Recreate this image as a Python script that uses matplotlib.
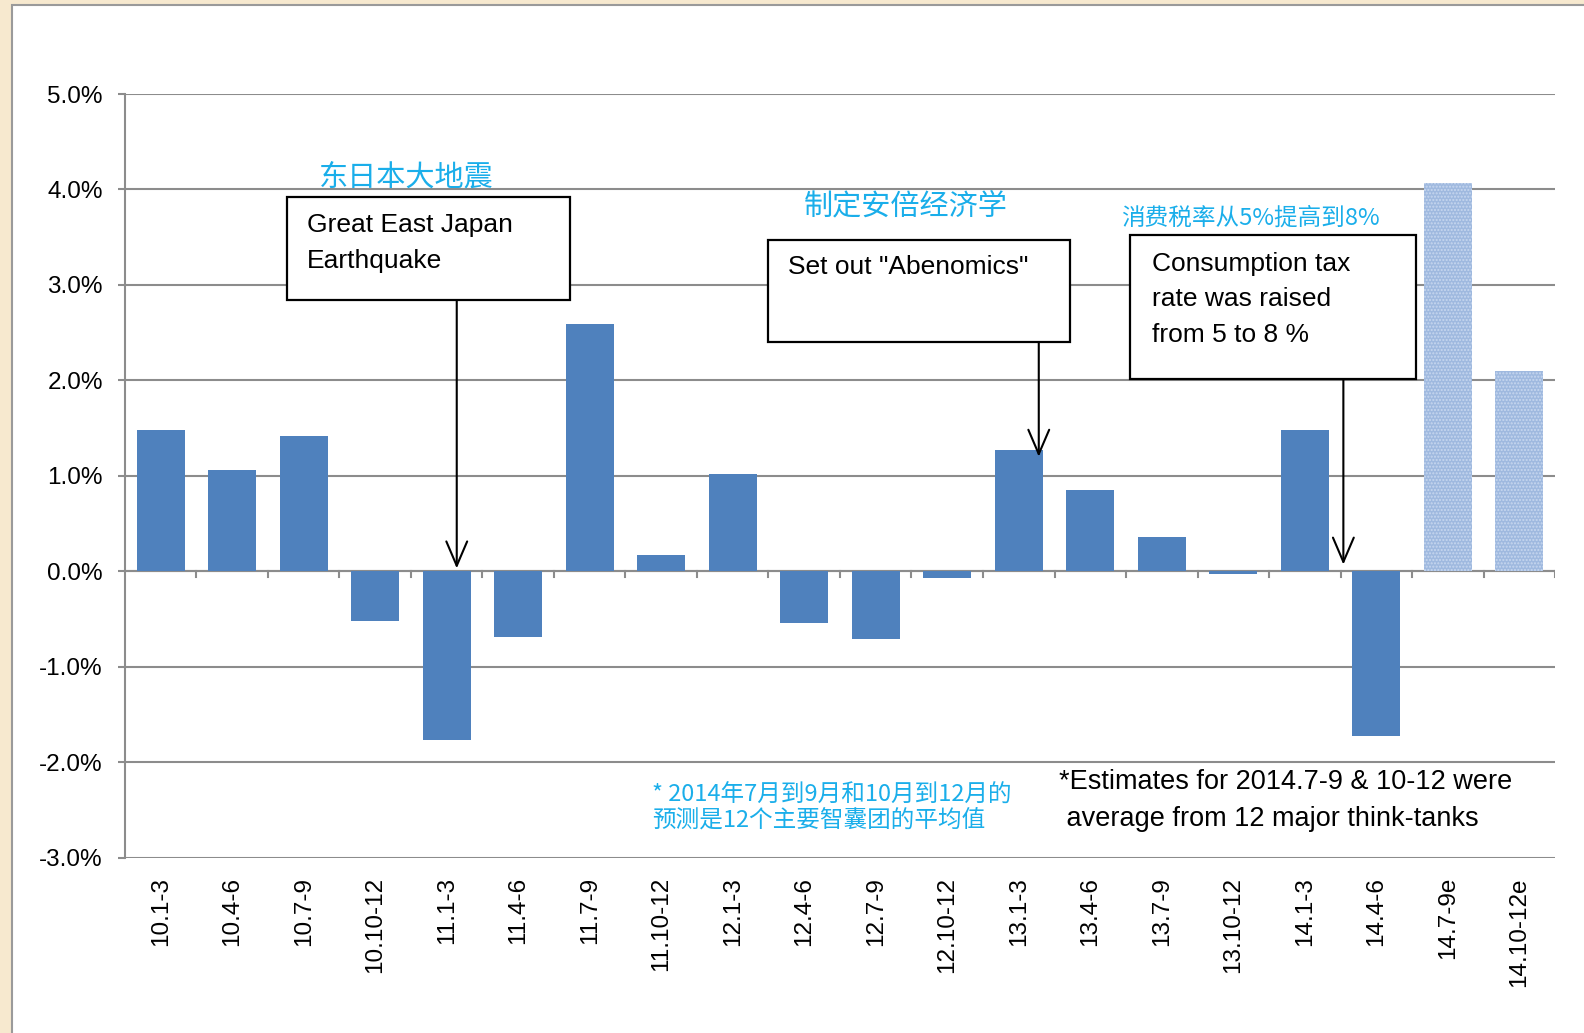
import numpy as np
import matplotlib.pyplot as plt
from matplotlib.patches import Rectangle

plt.rcParams['font.family'] = ['Liberation Sans', 'Noto Sans CJK SC']
cjk = ['Noto Sans CJK SC', 'DejaVu Sans']

# quarterly real GDP growth (q/q, %), last two are estimates
quarters = ['10.1-3', '10.4-6', '10.7-9', '10.10-12',
            '11.1-3', '11.4-6', '11.7-9', '11.10-12',
            '12.1-3', '12.4-6', '12.7-9', '12.10-12',
            '13.1-3', '13.4-6', '13.7-9', '13.10-12',
            '14.1-3', '14.4-6', '14.7-9e', '14.10-12e']
growth = [1.48, 1.06, 1.42, -0.52,
          -1.77, -0.69, 2.59, 0.17,
          1.02, -0.54, -0.71, -0.07,
          1.27, 0.85, 0.36, -0.03,
          1.48, -1.73, 4.07, 2.10]
is_estimate = [False] * 18 + [True, True]
yticks = [-3, -2, -1, 0, 1, 2, 3, 4, 5]

blue = '#4f81bd'
cyan = '#1aaeea'
grid_c = '#8c8c8c'

fig = plt.figure(figsize=(15.84, 10.33), dpi=100, facecolor='#f7e9cf')
# white panel with grey edge
fig.patches.append(Rectangle((12 / 1584, -0.01), 1.0, 1 - 5 / 1033 + 0.01,
                             transform=fig.transFigure, facecolor='white',
                             edgecolor='#9a9a9a', lw=1.5, zorder=-5))

ax = fig.add_axes([0.0789, 0.1698, 0.9028, 0.7392])
ax.set_facecolor('none')

x = np.arange(len(quarters))
for i in x:
    if is_estimate[i]:
        ax.bar(x[i], growth[i], width=0.667, color='#9fb9df',
               edgecolor='#c8d8ef', hatch='.....', lw=0, zorder=2)
    else:
        ax.bar(x[i], growth[i], width=0.667, color=blue, lw=0, zorder=2)

ax.set_xlim(-0.5, len(quarters) - 0.5)
ax.set_ylim(-3, 5)
ax.set_yticks(yticks)
ax.set_yticklabels(['{:.1f}%'.format(v) for v in yticks], fontsize=17.5)
ax.yaxis.grid(True, color=grid_c, lw=1.5, zorder=0)
ax.tick_params(axis='y', length=5, color=grid_c, width=1.5, pad=11)
ax.set_axisbelow(True)

for s in ['top', 'right', 'bottom']:
    ax.spines[s].set_visible(False)
ax.spines['left'].set_color(grid_c)
ax.spines['left'].set_linewidth(1.5)

# category labels at the bottom
ax.set_xticks(x)
ax.set_xticklabels(quarters, rotation=90, fontsize=17.5, va='top')
ax.tick_params(axis='x', length=0, pad=14)

# zero axis with boundary ticks
ax.axhline(0, color=grid_c, lw=1.5, zorder=1)
for b in np.arange(0.5, len(quarters), 1.0):
    ax.plot([b, b], [0, -0.065], color=grid_c, lw=1.5, zorder=1)

# annotation boxes
boxes = [(1.76, 2.84, 3.97, 1.08), (8.49, 2.40, 4.22, 1.07),
         (13.56, 2.01, 4.0, 1.51)]
for bx, by, bw, bh in boxes:
    ax.add_patch(Rectangle((bx, by), bw, bh, facecolor='white',
                           edgecolor='black', lw=1.6, zorder=4))

ax.text(2.05, 3.44, 'Great East Japan\nEarthquake', fontsize=19,
        va='center', ha='left', linespacing=1.6, zorder=5)
ax.text(8.77, 3.19, 'Set out "Abenomics"', fontsize=19,
        va='center', ha='left', zorder=5)
ax.text(13.87, 2.85, 'Consumption tax\nrate was raised\nfrom 5 to 8 %',
        fontsize=19, va='center', ha='left', linespacing=1.6, zorder=5)

ax.text(3.44, 4.13, '东日本大地震', color=cyan, fontsize=21, family=cjk,
        ha='center', va='center')
ax.text(10.42, 3.82, '制定安倍经济学', color=cyan, fontsize=21, family=cjk,
        ha='center', va='center')
ax.text(15.24, 3.70, '消费税率从5%提高到8%', color=cyan, fontsize=17,
        family=cjk, ha='center', va='center')

# arrows
arrows = [(4.14, 2.84, 0.03), (12.28, 2.40, 1.20), (16.54, 2.01, 0.07)]
for ax_x, y0, y1 in arrows:
    ax.annotate('', xy=(ax_x, y1), xytext=(ax_x, y0),
                arrowprops=dict(arrowstyle='->,head_length=0.7,head_width=0.3',
                                color='black', lw=1.5, mutation_scale=25,
                                shrinkA=0, shrinkB=0), zorder=6)

# footnotes
ax.text(6.87, -2.48, '* 2014年7月到9月和10月到12月的\n预测是12个主要智囊团的平均值',
        color=cyan, fontsize=17, family=cjk, ha='left', va='center',
        linespacing=1.15)
ax.text(12.56, -2.40, '*Estimates for 2014.7-9 & 10-12 were\n average from 12 major think-tanks',
        fontsize=19.5, ha='left', va='center', linespacing=1.55)

plt.savefig('out.png', dpi=100, facecolor=fig.get_facecolor())
